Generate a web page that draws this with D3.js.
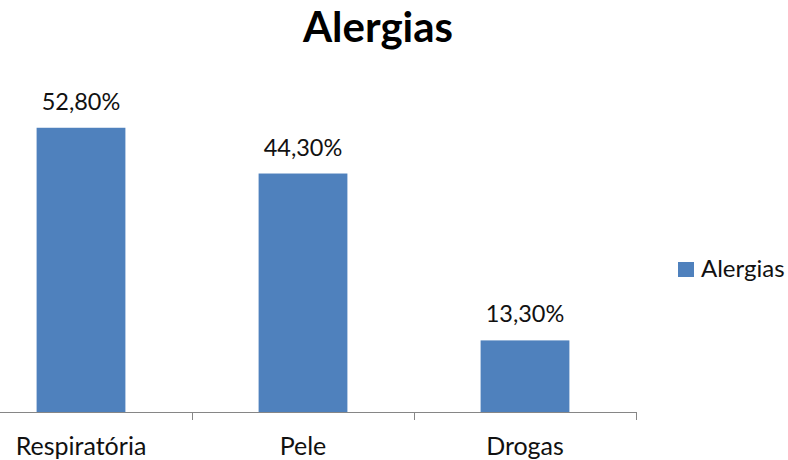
<!DOCTYPE html>
<html>
<head>
<meta charset="utf-8">
<script src="https://cdn.jsdelivr.net/npm/d3@7"></script>
<style>
  html, body { margin: 0; padding: 0; background: #fff; }
  svg { display: block; font-family: Lato, "Open Sans", sans-serif; }
</style>
</head>
<body>
<svg id="chart" width="788" height="460"></svg>
<script>
const title = "Alergias";
const categories = ["Respiratória", "Pele", "Drogas"];
const values = [52.8, 44.3, 13.3];
const valueLabels = ["52,80%", "44,30%", "13,30%"];
const seriesName = "Alergias";

const svg = d3.select("#chart");
const color = "#4F81BD";

const x = d3.scaleBand()
  .domain(categories)
  .range([-30, 636])
  .paddingInner(0.6)
  .paddingOuter(0.3);

const y = d3.scaleLinear()
  .domain([0, 60])
  .range([412, 89]);

// title
svg.append("text")
  .attr("x", 378).attr("y", 42)
  .attr("text-anchor", "middle")
  .attr("font-size", 42).attr("font-weight", "bold")
  .attr("fill", "#000")
  .text(title);

// bars
svg.selectAll("rect.bar")
  .data(values)
  .join("rect")
  .attr("class", "bar")
  .attr("x", (d, i) => x(categories[i]))
  .attr("width", x.bandwidth())
  .attr("y", d => y(d))
  .attr("height", d => y(0) - y(d))
  .attr("fill", color);

// value labels
svg.selectAll("text.val")
  .data(values)
  .join("text")
  .attr("class", "val")
  .attr("x", (d, i) => x(categories[i]) + x.bandwidth() / 2)
  .attr("y", d => y(d) - 18)
  .attr("text-anchor", "middle")
  .attr("font-size", 23.5)
  .attr("fill", "#111")
  .text((d, i) => valueLabels[i]);

// x axis
const step = x.step();
const left = x.range()[0];
const right = x.range()[1];
svg.append("line")
  .attr("x1", left).attr("x2", right)
  .attr("y1", y(0) + 0.5).attr("y2", y(0) + 0.5)
  .attr("stroke", "#868686").attr("stroke-width", 1);
const tickPos = d3.range(categories.length + 1).map(i => left + i * step);
svg.selectAll("line.tick")
  .data(tickPos)
  .join("line")
  .attr("class", "tick")
  .attr("x1", d => Math.round(d) + 0.5).attr("x2", d => Math.round(d) + 0.5)
  .attr("y1", y(0)).attr("y2", y(0) + 8)
  .attr("stroke", "#868686").attr("stroke-width", 1);

svg.selectAll("text.cat")
  .data(categories)
  .join("text")
  .attr("class", "cat")
  .attr("x", d => x(d) + x.bandwidth() / 2)
  .attr("y", 455)
  .attr("text-anchor", "middle")
  .attr("font-size", 25)
  .attr("fill", "#111")
  .text(d => d);

// legend
svg.append("rect")
  .attr("x", 678).attr("y", 262)
  .attr("width", 16).attr("height", 15)
  .attr("fill", color);
svg.append("text")
  .attr("x", 701).attr("y", 277)
  .attr("font-size", 24)
  .attr("fill", "#111")
  .text(seriesName);
</script>
</body>
</html>
